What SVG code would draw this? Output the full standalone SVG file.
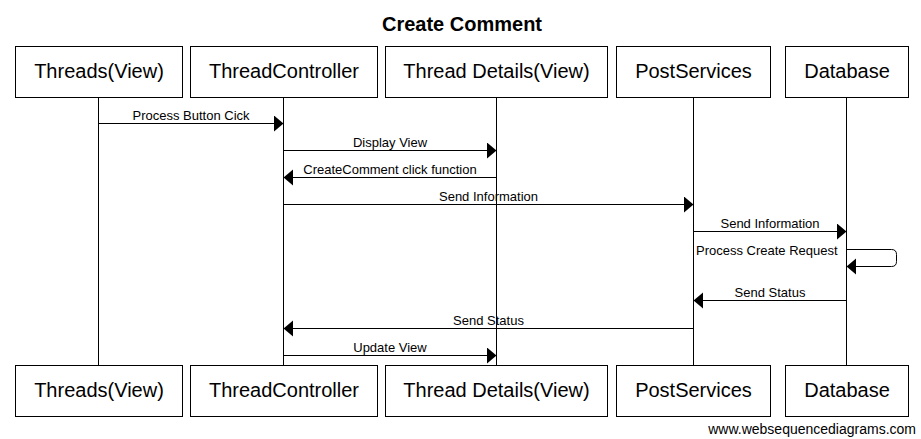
<svg xmlns="http://www.w3.org/2000/svg" width="921" height="439" viewBox="0 0 921 439">
<style>
  .box { fill: #fff; stroke: #000; stroke-width: 1; }
  .life { stroke: #000; stroke-width: 1; fill: none; }
  .name { font-family: "Liberation Sans", Arial, sans-serif; font-size: 20px; text-anchor: middle; fill: #000; }
  .msg { stroke: #000; stroke-width: 1; fill: none; marker-end: url(#arrow); }
  .lbl { font-family: "Liberation Sans", Arial, sans-serif; font-size: 13px; text-anchor: middle; fill: #000; }
  .title { font-family: "Liberation Sans", Arial, sans-serif; font-size: 20px; font-weight: bold; text-anchor: middle; fill: #000; }
  .wm { font-family: "Liberation Sans", Arial, sans-serif; font-size: 14px; text-anchor: end; fill: #000; }
</style>
<defs>
  <marker id="arrow" markerUnits="userSpaceOnUse" markerWidth="11" markerHeight="18" refX="9.5" refY="8" orient="auto">
    <path d="M0,0 L9.5,8 L0,16 z" fill="#000"/>
  </marker>
</defs>
<rect width="921" height="439" fill="#fff"/>
<text class="title" x="462" y="31">Create Comment</text>

<g id="threads-view">
  <line class="life" x1="98.5" y1="97.5" x2="98.5" y2="365.5"/>
  <rect class="box" x="15.5" y="46.5" width="167" height="51"/>
  <text class="name" x="99" y="78">Threads(View)</text>
  <rect class="box" x="15.5" y="365.5" width="167" height="51"/>
  <text class="name" x="99" y="397">Threads(View)</text>
</g>
<g id="thread-controller">
  <line class="life" x1="283.5" y1="97.5" x2="283.5" y2="365.5"/>
  <rect class="box" x="190.5" y="46.5" width="187" height="51"/>
  <text class="name" x="284" y="78">ThreadController</text>
  <rect class="box" x="190.5" y="365.5" width="187" height="51"/>
  <text class="name" x="284" y="397">ThreadController</text>
</g>
<g id="thread-details-view">
  <line class="life" x1="496.5" y1="97.5" x2="496.5" y2="365.5"/>
  <rect class="box" x="385.5" y="46.5" width="222" height="51"/>
  <text class="name" x="496.5" y="78">Thread Details(View)</text>
  <rect class="box" x="385.5" y="365.5" width="222" height="51"/>
  <text class="name" x="496.5" y="397">Thread Details(View)</text>
</g>
<g id="post-services">
  <line class="life" x1="693.5" y1="97.5" x2="693.5" y2="365.5"/>
  <rect class="box" x="616.5" y="46.5" width="154" height="51"/>
  <text class="name" x="693.5" y="78">PostServices</text>
  <rect class="box" x="616.5" y="365.5" width="154" height="51"/>
  <text class="name" x="693.5" y="397">PostServices</text>
</g>
<g id="database">
  <line class="life" x1="846.5" y1="97.5" x2="846.5" y2="365.5"/>
  <rect class="box" x="785.5" y="46.5" width="123" height="51"/>
  <text class="name" x="847" y="78">Database</text>
  <rect class="box" x="785.5" y="365.5" width="123" height="51"/>
  <text class="name" x="847" y="397">Database</text>
</g>

<g id="connectors">
  <line class="msg" x1="98.5" y1="123.5" x2="283.5" y2="123.5"/>
  <text class="lbl" x="191" y="120">Process Button Cick</text>

  <line class="msg" x1="283.5" y1="150.5" x2="496.5" y2="150.5"/>
  <text class="lbl" x="390" y="147">Display View</text>

  <line class="msg" x1="496.5" y1="177.5" x2="283.5" y2="177.5"/>
  <text class="lbl" x="390" y="174">CreateComment click function</text>

  <line class="msg" x1="283.5" y1="204.5" x2="693.5" y2="204.5"/>
  <text class="lbl" x="488.5" y="201">Send Information</text>

  <line class="msg" x1="693.5" y1="231.5" x2="846.5" y2="231.5"/>
  <text class="lbl" x="770" y="228">Send Information</text>

  <path class="msg" d="M846.5,249.5 H891.5 Q896.5,249.5 896.5,254.5 V261.5 Q896.5,266.5 891.5,266.5 H846.5"/>
  <text class="lbl" x="696" y="255" style="text-anchor:start">Process Create Request</text>

  <line class="msg" x1="846.5" y1="300.5" x2="693.5" y2="300.5"/>
  <text class="lbl" x="770" y="297">Send Status</text>

  <line class="msg" x1="693.5" y1="328.5" x2="283.5" y2="328.5"/>
  <text class="lbl" x="488.5" y="325">Send Status</text>

  <line class="msg" x1="283.5" y1="355.5" x2="496.5" y2="355.5"/>
  <text class="lbl" x="390" y="352">Update View</text>
</g>

<text class="wm" x="916" y="434">www.websequencediagrams.com</text>
</svg>
